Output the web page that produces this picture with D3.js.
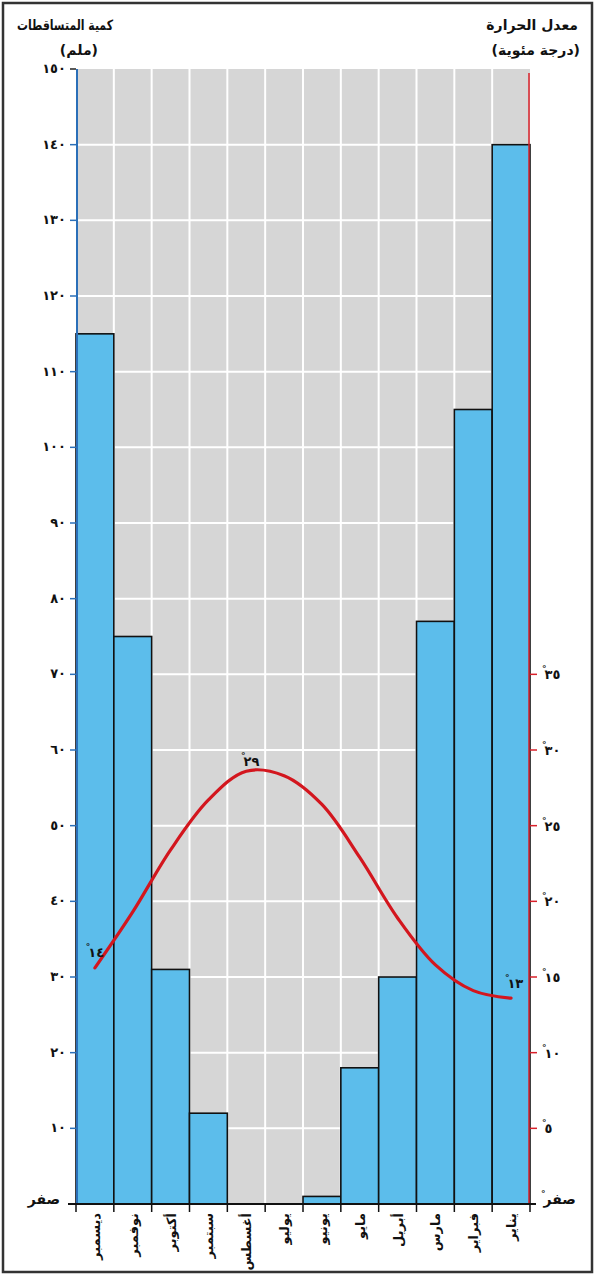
<!DOCTYPE html>
<html><head><meta charset="utf-8">
<script src="https://cdn.jsdelivr.net/npm/d3@7"></script>
<style>
body{margin:0;background:#fff}
text{font-family:"DejaVu Sans";font-weight:bold;fill:#111}
</style>
</head><body>
<svg id="chart" width="596" height="1276"></svg>
<script>
// ---- data ----
const months = ["ديسمبر","نوفمبر","أكتوبر","سبتمبر","أغسطس","يوليو","يونيو","مايو","أبريل","مارس","فبراير","يناير"];
const rainfall = [115, 75, 31, 12, 0, 0, 1, 18, 30, 77, 105, 140];
const temperature = [15.6, 19.3, 23.4, 26.7, 28.6, 28.3, 26.4, 22.9, 18.9, 15.8, 14.1, 13.6];
const rainTicks = [10,20,30,40,50,60,70,80,90,100,110,120,130,140,150];
const rainTickLabels = ["١٠","٢٠","٣٠","٤٠","٥٠","٦٠","٧٠","٨٠","٩٠","١٠٠","١١٠","١٢٠","١٣٠","١٤٠","١٥٠"];
const tempTicks = [5,10,15,20,25,30,35];
const tempTickLabels = ["٥","١٠","١٥","٢٠","٢٥","٣٠","٣٥"];
const zeroLabel = "صفر";
const degreeMark = "°";
const tempNoteMonths = ["ديسمبر","أغسطس","يناير"];
const tempNoteLabels = ["١٤","٢٩","١٣"];
const leftTitle = ["كمية المتساقطات","(ملم)"];
const rightTitle = ["معدل الحرارة","(درجة مئوية)"];

// ---- layout ----
const L = 76, R = 530, B = 1204, T = 69;
const svg = d3.select("#chart");

svg.append("rect").attr("x",3).attr("y",3).attr("width",589).attr("height",1269)
  .attr("fill","#fff").attr("stroke","#333").attr("stroke-width",2.5);

const x = d3.scaleBand().domain(months).range([L, R]).padding(0);
const yRain = d3.scaleLinear().domain([0,150]).range([B, T]);
const yTemp = d3.scaleLinear().domain([0,75]).range([B, T]);

// degree-marked label helper (single text element)
function degText(sel, label, big, small){
  sel.append("tspan").attr("font-size",small).attr("dy",-7).text(degreeMark);
  sel.append("tspan").attr("font-size",big).attr("dx",-2).attr("dy",7).text(label);
}

// plot background
svg.append("rect").attr("x",L).attr("y",yRain(150)).attr("width",R-L).attr("height",B-yRain(150))
  .attr("fill","#d6d6d6");

// grid
const grid = svg.append("g").attr("stroke","#fff").attr("stroke-width",2);
grid.selectAll("line.h").data(rainTicks.slice(0,-1)).join("line")
  .attr("x1",L).attr("x2",R).attr("y1",d=>yRain(d)).attr("y2",d=>yRain(d));
grid.selectAll("line.v").data(months.slice(1)).join("line")
  .attr("x1",d=>x(d)).attr("x2",d=>x(d)).attr("y1",yRain(150)).attr("y2",B);

// bars
svg.append("g").selectAll("rect").data(months.map((m,i)=>({m,v:rainfall[i]})).filter(d=>d.v>0)).join("rect")
  .attr("x",d=>x(d.m)).attr("width",x.bandwidth())
  .attr("y",d=>yRain(d.v)).attr("height",d=>B-yRain(d.v))
  .attr("fill","#5cbdeb").attr("stroke","#111").attr("stroke-width",1.6);

// left axis
svg.append("line").attr("x1",L+1).attr("x2",L+1).attr("y1",yRain(150)).attr("y2",B)
  .attr("stroke","#2a6fb8").attr("stroke-width",2);
const la = svg.append("g");
la.selectAll("line").data(rainTicks).join("line")
  .attr("x1",L-6).attr("x2",L).attr("y1",d=>yRain(d)).attr("y2",d=>yRain(d))
  .attr("stroke",d=>d===150?"#222":"#2a6fb8").attr("stroke-width",1.5);
la.selectAll("text").data(rainTicks).join("text")
  .attr("x",L-10).attr("y",d=>yRain(d)+4).attr("text-anchor","end")
  .attr("font-size",13).text((d,i)=>rainTickLabels[i]);
svg.append("text").attr("x",L-16).attr("y",B).attr("text-anchor","end")
  .attr("font-size",14).text(zeroLabel);

// right axis
svg.append("line").attr("x1",R-1).attr("x2",R-1).attr("y1",yRain(150)+4).attr("y2",B)
  .attr("stroke","#d8202a").attr("stroke-width",1.5);
const ra = svg.append("g");
ra.selectAll("line").data(tempTicks).join("line")
  .attr("x1",R).attr("x2",R+7).attr("y1",d=>yTemp(d)).attr("y2",d=>yTemp(d))
  .attr("stroke","#d8202a").attr("stroke-width",1.5);
ra.selectAll("text").data(tempTicks).join("text")
  .attr("x",R+12).attr("y",d=>yTemp(d)+5).attr("text-anchor","start")
  .each(function(d,i){ degText(d3.select(this), tempTickLabels[i], 13, 9); });
degText(svg.append("text").attr("x",R+11).attr("y",B).attr("text-anchor","start"), zeroLabel, 14, 9);

// bottom axis
svg.append("line").attr("x1",L-8).attr("x2",R+6).attr("y1",B).attr("y2",B)
  .attr("stroke","#111").attr("stroke-width",2);
const bounds = months.map(m=>x(m)).concat([R]);
svg.append("g").selectAll("line").data(bounds).join("line")
  .attr("x1",d=>d).attr("x2",d=>d).attr("y1",B).attr("y2",B+8)
  .attr("stroke","#111").attr("stroke-width",1.5);
svg.append("g").selectAll("text").data(months).join("text")
  .attr("transform",d=>`translate(${x(d)+x.bandwidth()/2+5},${B+9}) rotate(-90)`)
  .attr("text-anchor","end").attr("font-size",13).text(d=>d);

// temperature curve
const line = d3.line().x((d,i)=>x(months[i])+x.bandwidth()/2).y(d=>yTemp(d))
  .curve(d3.curveCatmullRom.alpha(0.5));
svg.append("path").attr("d",line(temperature)).attr("fill","none")
  .attr("stroke","#d3161e").attr("stroke-width",3.2).attr("stroke-linecap","round");

// curve notes
const noteDx = [0,4,3], noteDy = [-11,-5,-10];
tempNoteMonths.forEach((m,k)=>{
  const i = months.indexOf(m);
  const cx = x(m)+x.bandwidth()/2+noteDx[k], cy = yTemp(temperature[i])+noteDy[k];
  degText(svg.append("text").attr("x",cx).attr("y",cy).attr("text-anchor","middle"), tempNoteLabels[k], 13, 9);
});

// titles
svg.append("text").attr("x",17).attr("y",30).attr("text-anchor","start").attr("font-size",14)
  .attr("textLength",96).attr("lengthAdjust","spacingAndGlyphs").text(leftTitle[0]);
svg.append("text").attr("x",98).attr("y",55).attr("text-anchor","end").attr("font-size",14).text(leftTitle[1]);
svg.append("text").attr("x",578).attr("y",30).attr("text-anchor","end").attr("font-size",14).text(rightTitle[0]);
svg.append("text").attr("x",580).attr("y",55).attr("text-anchor","end").attr("font-size",14).text(rightTitle[1]);
</script>
</body></html>
